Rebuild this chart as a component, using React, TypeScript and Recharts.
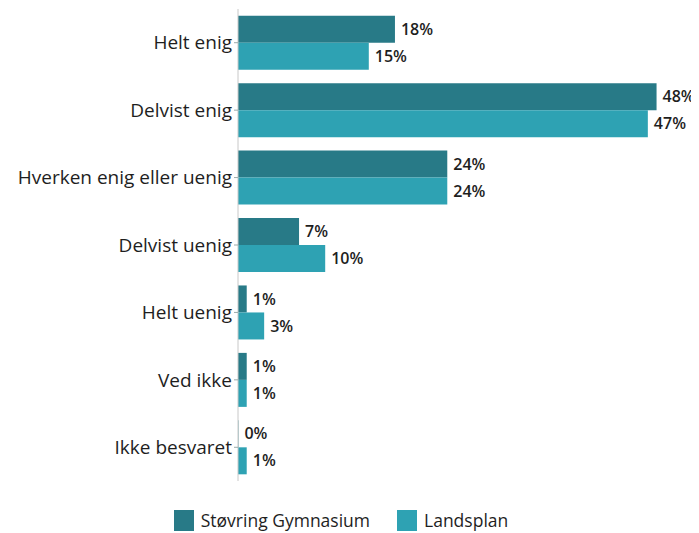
import { BarChart, Bar, XAxis, YAxis, Legend, LabelList } from "recharts";

const categories = [
  "Helt enig",
  "Delvist enig",
  "Hverken enig eller uenig",
  "Delvist uenig",
  "Helt uenig",
  "Ved ikke",
  "Ikke besvaret",
];
const stovring = [18, 48, 24, 7, 1, 1, 0];
const landsplan = [15, 47, 24, 10, 3, 1, 1];

const data = categories.map((name, i) => ({
  name,
  stovring: stovring[i],
  landsplan: landsplan[i],
}));

const FONT = "'Open Sans', sans-serif";
const DARK = "#287a87";
const LIGHT = "#2ea2b3";
const series = [
  { key: "stovring", name: "Støvring Gymnasium", color: DARK },
  { key: "landsplan", name: "Landsplan", color: LIGHT },
];

// value label drawn even for zero-width bars
const ValueLabel = (props: any) => {
  const { x, y, width, height, value } = props;
  return (
    <text
      x={Number(x) + Number(width || 0) + 6}
      y={Number(y) + Number(height) / 2}
      dy="0.35em"
      fill="#1e1e1e"
      fontSize={16}
      fontWeight={600}
      fontFamily={FONT}
    >
      {value}%
    </text>
  );
};

const LegendContent = () => (
  <div style={{ display: "flex", justifyContent: "center", gap: 27, fontFamily: FONT, fontSize: 17.5, color: "#1e1e1e" }}>
    {series.map((s) => (
      <div key={s.key} style={{ display: "flex", alignItems: "center" }}>
        <span style={{ display: "inline-block", width: 20, height: 21, background: s.color, marginRight: 7 }} />
        {s.name}
      </div>
    ))}
  </div>
);

const App = () => {
  return (
    <div style={{ fontFamily: FONT }}>
      <BarChart
        width={691}
        height={525}
        data={data}
        layout="vertical"
        margin={{ top: 1, right: 25, left: 0, bottom: 28 }}
        barCategoryGap="10%"
        barGap={0}
      >
        <XAxis type="number" domain={[0, 50]} hide />
        <YAxis
          type="category"
          dataKey="name"
          width={230}
          axisLine={{ stroke: "#c8c8c8" }}
          tickLine={{ stroke: "#9aa" }}
          tickSize={4}
          tick={{ fill: "#1e1e1e", fontSize: 19, fontFamily: FONT }}
        />
        <Legend verticalAlign="bottom" content={<LegendContent />} wrapperStyle={{ bottom: 1 }} />
        {series.map((s) => (
          <Bar key={s.key} dataKey={s.key} name={s.name} fill={s.color} minPointSize={0.4} isAnimationActive={false}>
            <LabelList dataKey={s.key} content={<ValueLabel />} />
          </Bar>
        ))}
      </BarChart>
    </div>
  );
};

export default App;
